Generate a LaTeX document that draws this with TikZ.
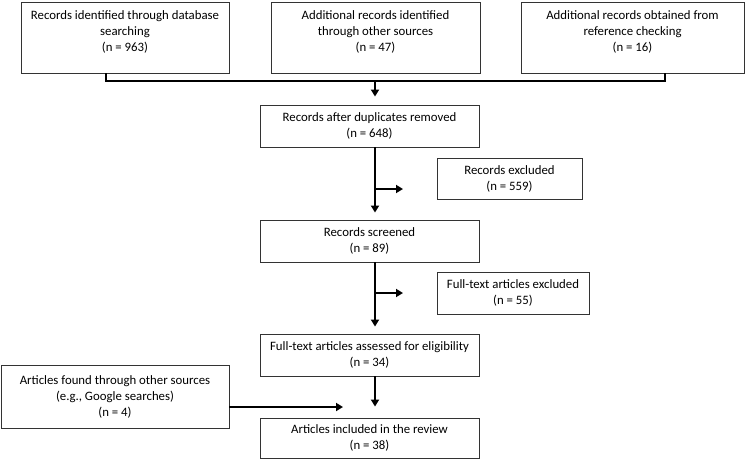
\documentclass[tikz,border=0pt]{standalone}
\usepackage{fontspec}
\setmainfont{Carlito}
\usetikzlibrary{arrows.meta,calc}
\begin{document}
\begin{tikzpicture}[x=1pt,y=-1pt,
 box/.style={draw=black!80, line width=0.9pt, inner sep=0pt, align=center, fill=white,
   font=\fontsize{12.8}{16}\selectfont},
 conn/.style={line width=2.5pt},
 arr/.style={line width=2.5pt,-{Triangle[length=7pt,width=8pt]}}]
\useasboundingbox (0,0) rectangle (749,460);
% top row
\node[box, minimum width=208pt, minimum height=71pt] (b1) at (125,37.5)
  {Records identified through database\\searching\\(n = 963)\\[-3pt]};
\node[box, minimum width=209pt, minimum height=71pt] (b2) at (375.5,37.5)
  {Additional records identified\\through other sources\\(n = 47)\\[-3pt]};
\node[box, minimum width=223pt, minimum height=71pt] (b3) at (632.5,37.5)
  {Additional records obtained from\\reference checking\\(n = 16)\\[-3pt]};
% main column
\node[box, minimum width=219pt, minimum height=42pt] (b4) at (369.5,126)
  {Records after duplicates removed\\(n = 648)};
\node[box, minimum width=219pt, minimum height=42pt] (b5) at (369.5,241)
  {Records screened\\(n = 89)};
\node[box, minimum width=219pt, minimum height=42pt] (b6) at (369.5,355)
  {Full-text articles assessed for eligibility\\(n = 34)};
\node[box, minimum width=219pt, minimum height=40pt] (b7) at (369.5,438)
  {Articles included in the review\\(n = 38)};
% side boxes
\node[box, minimum width=145pt, minimum height=41pt] (e1) at (509.5,178.5)
  {Records excluded\\(n = 559)};
\node[box, minimum width=152pt, minimum height=42pt] (e2) at (513,293)
  {Full-text articles excluded\\(n = 55)};
\node[box, minimum width=228pt, minimum height=63pt] (lb) at (115,396.5)
  {Articles found through other sources\\(e.g., Google searches)\\(n = 4)};
% junction of top row
\coordinate (j) at (375,81);
\draw[conn] ($(b1.south)+(-19,0)$) |- (j);
\draw[conn] ($(b3.south)+(32.5,0)$) |- (j);
\draw[arr] (j) -- ($(j |- b4.north)+(0,-8)$);
% main flow
\coordinate (s1) at (375,189);
\coordinate (s1e) at (403,189);
\coordinate (s2) at (375,293);
\coordinate (s2e) at (403,293);
\draw[arr] (b4.south -| j) -- ($(j |- b5.north)+(0,-7)$);
\draw[arr] (s1) -- (s1e);
\draw[arr] (b5.south -| j) -- ($(j |- b6.north)+(0,-7)$);
\draw[arr] (s2) -- (s2e);
\draw[arr] (b6.south -| j) -- ($(j |- b7.north)+(0,-11)$);
% left input
\coordinate (l1) at (lb.east |- 0,407);
\coordinate (l1e) at (343,407);
\draw[arr] (l1) -- (l1e);
\end{tikzpicture}
\end{document}
